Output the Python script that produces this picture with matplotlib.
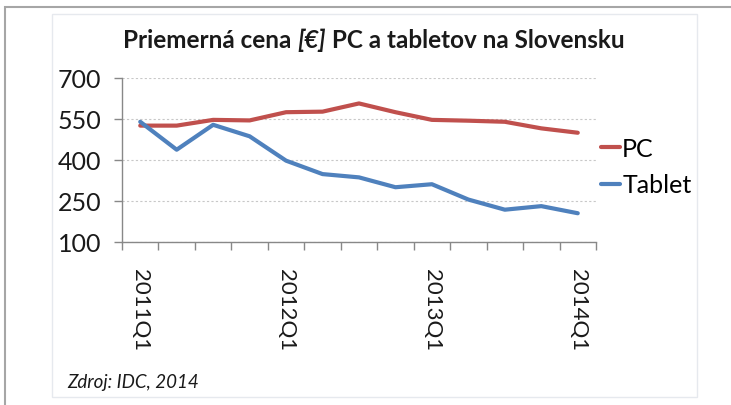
import numpy as np
import matplotlib
matplotlib.use("Agg")
import matplotlib.pyplot as plt
from matplotlib.patches import Rectangle

# quarters 2011Q1 .. 2014Q1
quarters = ['2011Q1', '2011Q2', '2011Q3', '2011Q4',
            '2012Q1', '2012Q2', '2012Q3', '2012Q4',
            '2013Q1', '2013Q2', '2013Q3', '2013Q4',
            '2014Q1']
pc = [525, 525, 546, 544, 574, 576, 606, 574, 546, 543, 539, 515, 499]
tablet = [539, 437, 528, 486, 397, 348, 336, 300, 311, 255, 218, 231, 205]
yticks = [100, 250, 400, 550, 700]

plt.rcParams['font.family'] = ['Lato', 'DejaVu Sans']

W, H = 731, 406
fig = plt.figure(figsize=(W/100, H/100), dpi=100)

# outer frame and chart area frame
fig.patches.append(Rectangle((5/W, -0.1), 2.0, (H-8)/H + 0.1,
                             transform=fig.transFigure, fill=False,
                             edgecolor='#a6a6a6', linewidth=1.5))
fig.patches.append(Rectangle((52/W, 1-398/H), (697-52)/W, (398-15)/H,
                             transform=fig.transFigure, fill=False,
                             edgecolor='#e6e9ee', linewidth=1.0))

ax = fig.add_axes([122/W, 1-243/H, (596-122)/W, (243-78.7)/H])

x = np.arange(len(quarters))
ax.plot(x, pc, color='#C0504D', linewidth=3, label='PC', solid_capstyle='round')
ax.plot(x, tablet, color='#4F81BD', linewidth=3, label='Tablet', solid_capstyle='round')

ax.set_xlim(-0.5, len(quarters)-0.5)
ax.set_ylim(100, 700)
ax.set_yticks(yticks)
ax.set_yticklabels([str(v) for v in yticks], fontsize=18, color='#1a1a1a')
ax.tick_params(axis='y', length=6, width=1, color='#888888', pad=9)

# tick marks between categories, labels every year
ax.set_xticks(np.arange(-0.5, len(quarters), 1.0))
ax.set_xticklabels([])
ax.tick_params(axis='x', which='major', length=6, width=1, color='#888888')
ax.set_xticks(x[::4], minor=True)
ax.set_xticklabels(quarters[::4], minor=True, rotation=-90, fontsize=16,
                   color='#1a1a1a')
ax.tick_params(axis='x', which='minor', length=0, pad=19)

ax.grid(axis='y', color='#c8c8c8', linestyle=(0, (2, 2)), linewidth=0.8)
ax.set_axisbelow(True)
for s in ['top', 'right']:
    ax.spines[s].set_visible(False)
for s in ['left', 'bottom']:
    ax.spines[s].set_color('#888888')
    ax.spines[s].set_linewidth(1)

ax.legend(loc='center left', bbox_to_anchor=(1.0, 0.46), frameon=False,
          fontsize=18, handlelength=0.75, handletextpad=0.1,
          labelspacing=0.55, borderaxespad=0.0, borderpad=0.2)

# title with italic [€] part
parts = [('Priemerná cena ', 'normal'), ('[€]', 'italic'),
         (' PC a tabletov na Slovensku', 'normal')]
renderer = fig.canvas.get_renderer()
texts = []
for s, st in parts:
    t = fig.text(0, 1-40/H, s, fontsize=17.5, fontweight='bold', style=st,
                 ha='left', va='center', color='#1a1a1a')
    texts.append(t)
widths = [t.get_window_extent(renderer).width for t in texts]
x0 = 374 - sum(widths)/2
for t, w in zip(texts, widths):
    t.set_x(x0/W)
    x0 += w

fig.text(67/W, 1-383/H, 'Zdroj: IDC, 2014', fontsize=13.5, style='italic',
         ha='left', va='center', color='#1a1a1a')

fig.savefig('out.png', dpi=100)
